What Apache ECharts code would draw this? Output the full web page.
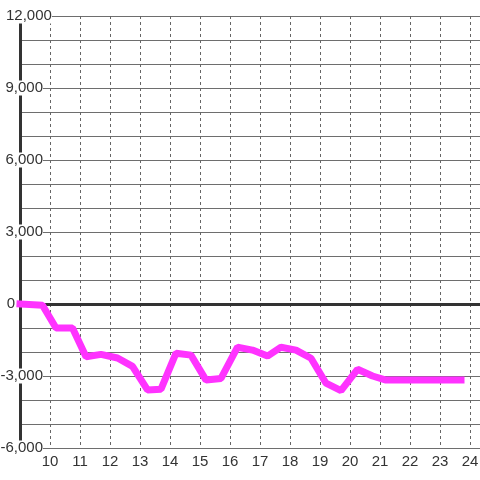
<!DOCTYPE html>
<html lang="en" style="height: 100%">
<head>
<meta charset="utf-8">
<title>Line chart</title>
</head>
<body style="height: 100%; margin: 0; background: #fff">
<div id="container" style="width: 480px; height: 480px"></div>

<script type="text/javascript" src="https://cdn.jsdelivr.net/npm/echarts/dist/echarts.min.js"></script>

<script type="text/javascript">

// data
var xValues = [9.0, 9.75, 10.2, 10.75, 11.2, 11.7, 12.25, 12.75, 13.25, 13.7, 14.2, 14.7, 15.2, 15.7,
    16.25, 16.75, 17.25, 17.7, 18.2, 18.7, 19.2, 19.7, 20.25, 20.75, 21.2, 21.7, 22.2, 22.7, 23.2, 23.7];
var yValues = [0, -50, -1000, -1000, -2200, -2100, -2250, -2600, -3580, -3550, -2050, -2130, -3170, -3100,
    -1800, -1920, -2170, -1800, -1920, -2260, -3300, -3610, -2720, -3000, -3170, -3170, -3170, -3170, -3170, -3170];

// plot runs a bit past the right edge so the extra max tick is off canvas
var xMin = 9, xMax = 9 + 470 / 30;
var yMin = -6000, yMax = 12000;
var yLabelStep = 3000;

var fontFamily = 'Liberation Sans, Arial, sans-serif';

var dom = document.getElementById('container');
var myChart = echarts.init(dom);

function withCommas(v) {
    var s = String(Math.abs(v)).replace(/\B(?=(\d{3})+(?!\d))/g, ',');
    return (v < 0 ? '-' : '') + s;
}

var option = {
    animation: false,
    backgroundColor: '#fff',
    grid: { left: 20, right: -10, top: 16, bottom: 32, outerBoundsMode: 'none', containLabel: false },
    xAxis: [{
        type: 'value',
        min: xMin,
        max: xMax,
        interval: 1,
        axisLine: { onZero: true, lineStyle: { color: '#333', width: 3 } },
        axisTick: { show: false },
        axisLabel: { show: false },
        splitLine: { show: true, lineStyle: { color: '#666', width: 1, type: [3, 3] } }
    }, {
        type: 'value',
        position: 'bottom',
        min: xMin,
        max: xMax,
        interval: 1,
        axisLine: { show: true, onZero: false, lineStyle: { color: '#6e6e6e', width: 1 } },
        axisTick: { show: false },
        splitLine: { show: false },
        axisLabel: {
            margin: 6,
            fontSize: 15,
            fontFamily: fontFamily,
            color: '#333',
            formatter: function (v) {
                return (Math.abs(v - Math.round(v)) < 1e-6 && v > xMin) ? String(Math.round(v)) : '';
            }
        }
    }],
    yAxis: {
        type: 'value',
        min: yMin,
        max: yMax,
        interval: 1000,
        axisLine: { show: true, lineStyle: { color: '#333', width: 3 } },
        axisTick: { show: false },
        splitLine: { show: true, lineStyle: { color: '#6e6e6e', width: 1 } },
        axisLabel: {
            align: 'left',
            margin: 14,
            fontSize: 15,
            fontFamily: fontFamily,
            color: '#333',
            backgroundColor: '#fff',
            formatter: function (v) {
                if (v % yLabelStep !== 0) return '';
                if (v === 0) return '{z|0}';
                if (v >= 10000) return '{w|' + withCommas(v) + '}';
                return '{n|' + withCommas(v) + '}';
            },
            rich: {
                n: { width: 37, align: 'right', fontSize: 15, fontFamily: fontFamily, color: '#333' },
                w: { fontSize: 15, fontFamily: fontFamily, color: '#333' },
                z: { width: 9, align: 'right', fontSize: 15, fontFamily: fontFamily, color: '#333' }
            }
        }
    },
    series: [{
        type: 'line',
        xAxisIndex: 0,
        symbol: 'none',
        data: xValues.map(function (x, i) { return [x, yValues[i]]; }),
        lineStyle: { color: '#ff33ff', width: 7, cap: 'square' }
    }]
};

if (option && typeof option === 'object') {
    myChart.setOption(option);
}

window.addEventListener('resize', myChart.resize);
</script>
</body>
</html>
